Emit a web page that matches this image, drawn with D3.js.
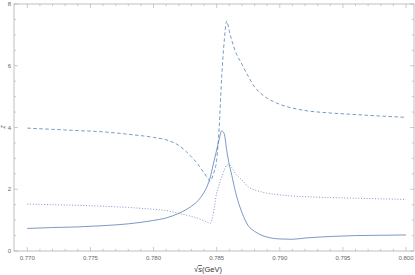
<!DOCTYPE html>
<html lang="en">
<head>
  <meta charset="UTF-8">
  <title>Z vs sqrt(s)</title>
  <script src="https://d3js.org/d3.v7.min.js"></script>
  <style>
    body { margin: 0; background: #fff; font-family: 'Liberation Sans', Arial, sans-serif; }
    .tick-label { font-size: 6px; fill: #666; }
    .curve { fill: none; stroke: #6386bb; stroke-width: 0.85; }
  </style>
</head>
<body>
<div class="chart"></div>
<script>
  // shared x grid (GeV)
  const sValues = [0.770, 0.772, 0.774, 0.776, 0.778, 0.780, 0.781, 0.782, 0.783, 0.7835,
    0.784, 0.7843, 0.7845, 0.7847, 0.785, 0.7852, 0.7854, 0.7856, 0.7858, 0.786,
    0.7862, 0.7865, 0.787, 0.7875, 0.788, 0.7885, 0.789, 0.790, 0.791, 0.792,
    0.794, 0.796, 0.798, 0.800];

  const solidValues = [0.73, 0.76, 0.78, 0.82, 0.88, 0.99, 1.07, 1.22, 1.45, 1.62,
    1.90, 2.15, 2.40, 2.75, 3.27, 3.62, 3.89, 3.80, 3.25, 2.80,
    2.45, 1.90, 1.25, 0.82, 0.64, 0.52, 0.45, 0.39, 0.38, 0.42,
    0.47, 0.50, 0.51, 0.52];

  const dottedValues = [1.52, 1.50, 1.48, 1.45, 1.41, 1.35, 1.31, 1.22, 1.12, 1.06,
    0.98, 0.93, 0.90, 1.15, 1.87, 2.15, 2.40, 2.62, 2.78, 2.80,
    2.70, 2.50, 2.30, 2.08, 1.98, 1.92, 1.87, 1.82, 1.78, 1.76,
    1.73, 1.71, 1.69, 1.67];

  const dashedValues = [3.98, 3.94, 3.90, 3.86, 3.78, 3.68, 3.60, 3.42, 3.05, 2.82,
    2.53, 2.36, 2.26, 2.45, 2.94, 4.00, 5.64, 6.80, 7.45, 7.12,
    6.82, 6.45, 6.05, 5.66, 5.32, 5.10, 4.95, 4.75, 4.63, 4.55,
    4.47, 4.42, 4.37, 4.33];

  const xTicks = [0.770, 0.775, 0.780, 0.785, 0.790, 0.795, 0.800];
  const yTicks = [0, 2, 4, 6, 8];

  const W = 415, H = 275;
  const frame = { left: 14, right: 414, top: 4, bottom: 251 };

  const x = d3.scaleLinear().domain([0.770, 0.800]).range([27.3, 406]);
  const y = d3.scaleLinear().domain([0, 8]).range([frame.bottom, frame.top]);

  const svg = d3.select('.chart').append('svg')
    .attr('width', W)
    .attr('height', H);

  svg.append('clipPath').attr('id', 'clip')
    .append('rect')
    .attr('x', frame.left).attr('y', frame.top)
    .attr('width', frame.right - frame.left)
    .attr('height', frame.bottom - frame.top);

  // ticks: inside the frame, mirrored on top/right
  const xMinor = d3.range(0.770, 0.8005, 0.001);
  const yMinor = d3.range(0, 8.01, 0.5);
  const tickColor = '#aaa';

  const ticks = svg.append('g').attr('stroke', tickColor).attr('stroke-width', 0.6);
  xMinor.forEach(v => {
    const major = xTicks.some(t => Math.abs(t - v) < 1e-6);
    const len = major ? 4 : 2.2;
    ticks.append('line').attr('x1', x(v)).attr('x2', x(v))
      .attr('y1', frame.bottom).attr('y2', frame.bottom - len);
    ticks.append('line').attr('x1', x(v)).attr('x2', x(v))
      .attr('y1', frame.top).attr('y2', frame.top + len);
  });
  yMinor.forEach(v => {
    const major = yTicks.includes(v);
    const len = major ? 4 : 2.2;
    ticks.append('line').attr('y1', y(v)).attr('y2', y(v))
      .attr('x1', frame.left).attr('x2', frame.left + len);
    ticks.append('line').attr('y1', y(v)).attr('y2', y(v))
      .attr('x1', frame.right).attr('x2', frame.right - len);
  });

  // frame
  svg.append('rect')
    .attr('x', frame.left).attr('y', frame.top)
    .attr('width', frame.right - frame.left)
    .attr('height', frame.bottom - frame.top)
    .attr('fill', 'none')
    .attr('stroke', '#b0b0b0')
    .attr('stroke-width', 0.8);

  // tick labels
  svg.selectAll('.xl').data(xTicks).enter().append('text')
    .attr('class', 'tick-label')
    .attr('x', d => x(d))
    .attr('y', frame.bottom + 9)
    .attr('text-anchor', 'middle')
    .text(d => d.toFixed(3));

  svg.selectAll('.yl').data(yTicks).enter().append('text')
    .attr('class', 'tick-label')
    .attr('x', frame.left - 3)
    .attr('y', d => y(d) + 2)
    .attr('text-anchor', 'end')
    .text(d => d);

  // axis labels
  svg.append('text')
    .attr('x', 208).attr('y', 272)
    .attr('text-anchor', 'middle')
    .style('font-size', '7.5px').style('fill', '#333')
    .html('√<tspan text-decoration="overline" font-style="italic">s</tspan>(GeV)');

  svg.append('text')
    .attr('transform', 'translate(5,127) rotate(-90)')
    .attr('text-anchor', 'middle')
    .style('font-size', '5px').style('fill', '#333')
    .style('font-style', 'italic')
    .text('Z');

  const line = vals => d3.line()
    .x((d, i) => x(sValues[i]))
    .y(d => y(d))
    .curve(d3.curveMonotoneX)(vals);

  const plot = svg.append('g').attr('clip-path', 'url(#clip)');
  plot.append('path').attr('class', 'curve').attr('d', line(solidValues));
  plot.append('path').attr('class', 'curve').attr('d', line(dottedValues))
    .attr('stroke-dasharray', '1,1.8');
  plot.append('path').attr('class', 'curve').attr('d', line(dashedValues))
    .attr('stroke-dasharray', '3.5,2.5');
</script>
</body>
</html>
